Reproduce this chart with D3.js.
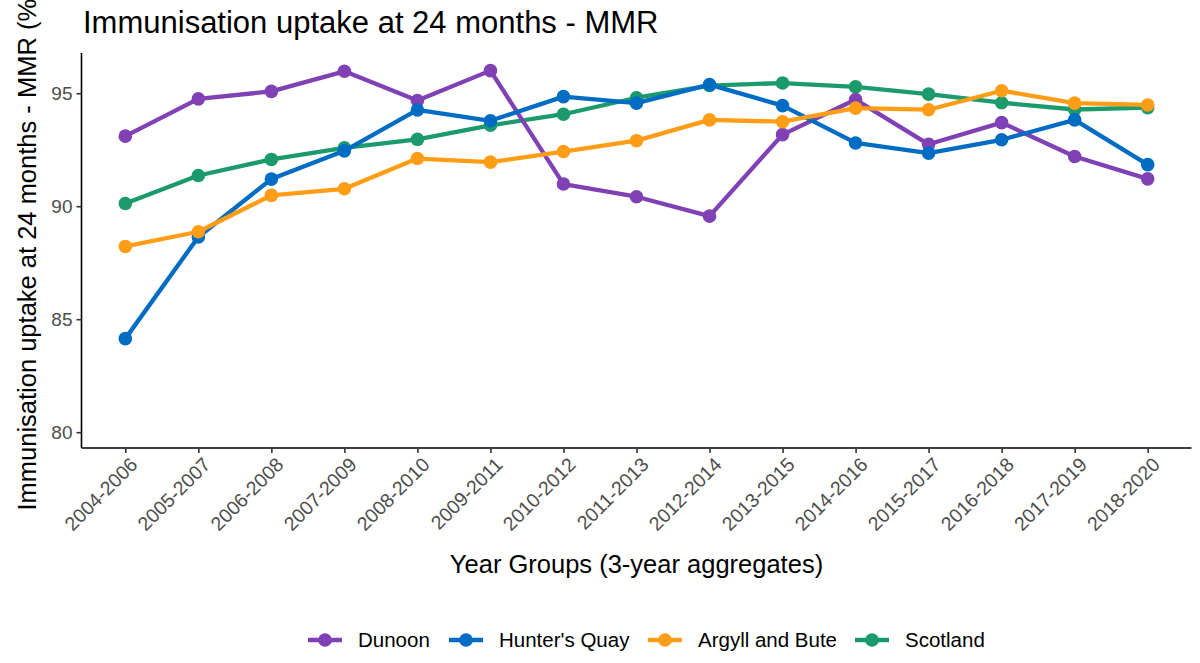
<!DOCTYPE html>
<html>
<head>
<meta charset="utf-8">
<script src="https://cdn.jsdelivr.net/npm/d3@7"></script>
<style>
  body { margin: 0; background: #fff; }
  svg { font-family: "Liberation Sans", Arial, sans-serif; }
</style>
</head>
<body>
<script>
// Year groups (3-year aggregates)
const yearGroups = ['2004-2006', '2005-2007', '2006-2008', '2007-2009', '2008-2010',
  '2009-2011', '2010-2012', '2011-2013', '2012-2014', '2013-2015', '2014-2016',
  '2015-2017', '2016-2018', '2017-2019', '2018-2020'];

// uptake (%)
const dunoon = [93.1, 94.75, 95.08, 95.97, 94.68, 96.0, 90.98, 90.42, 89.56, 93.17, 94.72, 92.74, 93.7, 92.2, 91.21];
const huntersQuay = [84.14, 88.64, 91.2, 92.45, 94.26, 93.78, 94.85, 94.56, 95.38, 94.45, 92.8, 92.35, 92.94, 93.82, 91.84];
const argyllBute = [88.22, 88.87, 90.48, 90.77, 92.11, 91.95, 92.42, 92.9, 93.82, 93.74, 94.34, 94.27, 95.11, 94.56, 94.48];
const scotland = [90.12, 91.36, 92.07, 92.58, 92.96, 93.58, 94.07, 94.8, 95.34, 95.45, 95.28, 94.96, 94.58, 94.28, 94.36];

const seriesNames = ['Dunoon', "Hunter's Quay", 'Argyll and Bute', 'Scotland'];
const seriesValues = [dunoon, huntersQuay, argyllBute, scotland];
const seriesColors = ['#8041B5', '#006CC3', '#FF9D17', '#1B9A6B'];

const yTicks = [80, 85, 90, 95];

const WIDTH = 1200;
const HEIGHT = 663;
const margin = { top: 53, right: 8.5, bottom: 215, left: 81.5 };

const svg = d3.select('body').append('svg')
  .attr('width', WIDTH)
  .attr('height', HEIGHT);

const x = d3.scalePoint()
  .domain(yearGroups)
  .range([margin.left, WIDTH - margin.right])
  .padding(0.6);

const y = d3.scaleLinear()
  .domain([79.3, 96.78])
  .range([HEIGHT - margin.bottom, margin.top]);

// lines and points, Scotland at the bottom
const line = d3.line()
  .x((d, i) => x(yearGroups[i]))
  .y(d => y(d));

const order = [3, 0, 1, 2];
order.forEach(k => {
  const g = svg.append('g');
  g.append('path')
    .datum(seriesValues[k])
    .attr('d', line)
    .attr('fill', 'none')
    .attr('stroke', seriesColors[k])
    .attr('stroke-width', 4.3)
    .attr('stroke-linejoin', 'round');
  g.selectAll('circle')
    .data(seriesValues[k])
    .enter()
    .append('circle')
    .attr('cx', (d, i) => x(yearGroups[i]))
    .attr('cy', d => y(d))
    .attr('r', 6.8)
    .attr('fill', seriesColors[k]);
});

// axes
const xAxis = svg.append('g')
  .attr('transform', `translate(0,${HEIGHT - margin.bottom})`)
  .call(d3.axisBottom(x).tickSize(5).tickSizeOuter(0));
xAxis.select('.domain').attr('stroke', '#000').attr('stroke-width', 1.6)
  .attr('d', `M${margin.left},0H${WIDTH - margin.right}`);
xAxis.selectAll('.tick line').attr('stroke', '#333').attr('stroke-width', 1.6);
xAxis.selectAll('.tick text')
  .attr('fill', '#4D4D4D')
  .attr('font-size', 19.5)
  .attr('text-anchor', 'end')
  .attr('transform', 'translate(3,8) rotate(-45)')
  .attr('x', 0)
  .attr('y', 0)
  .attr('dy', '0.72em');

const yAxis = svg.append('g')
  .attr('transform', `translate(${margin.left},0)`)
  .call(d3.axisLeft(y).tickValues(yTicks).tickSize(5).tickSizeOuter(0));
yAxis.select('.domain').attr('stroke', '#000').attr('stroke-width', 1.6)
  .attr('d', `M0,${margin.top}V${HEIGHT - margin.bottom}`);
yAxis.selectAll('.tick line').attr('stroke', '#333').attr('stroke-width', 1.6);
yAxis.selectAll('.tick text')
  .attr('fill', '#4D4D4D')
  .attr('font-size', 19)
  .attr('x', -9);

// titles
svg.append('text')
  .attr('x', 83)
  .attr('y', 33)
  .attr('font-size', 31)
  .attr('fill', '#000')
  .text('Immunisation uptake at 24 months - MMR');

svg.append('text')
  .attr('x', (margin.left + WIDTH - margin.right) / 2)
  .attr('y', 573)
  .attr('text-anchor', 'middle')
  .attr('font-size', 25.5)
  .attr('fill', '#000')
  .text('Year Groups (3-year aggregates)');

svg.append('text')
  .attr('transform', `translate(36,${(margin.top + HEIGHT - margin.bottom) / 2}) rotate(-90)`)
  .attr('text-anchor', 'middle')
  .attr('font-size', 25.5)
  .attr('fill', '#000')
  .text('Immunisation uptake at 24 months - MMR (%)');

// legend
const legendX = [308, 449, 648, 855];
const legend = svg.append('g');
seriesNames.forEach((name, k) => {
  const g = legend.append('g').attr('transform', `translate(${legendX[k]},640)`);
  g.append('line')
    .attr('x1', 0).attr('x2', 34)
    .attr('stroke', seriesColors[k])
    .attr('stroke-width', 4.3);
  g.append('circle')
    .attr('cx', 17)
    .attr('r', 6.8)
    .attr('fill', seriesColors[k]);
  g.append('text')
    .attr('x', 50)
    .attr('dy', '0.35em')
    .attr('font-size', 20.5)
    .attr('fill', '#000')
    .text(name);
});
</script>
</body>
</html>
